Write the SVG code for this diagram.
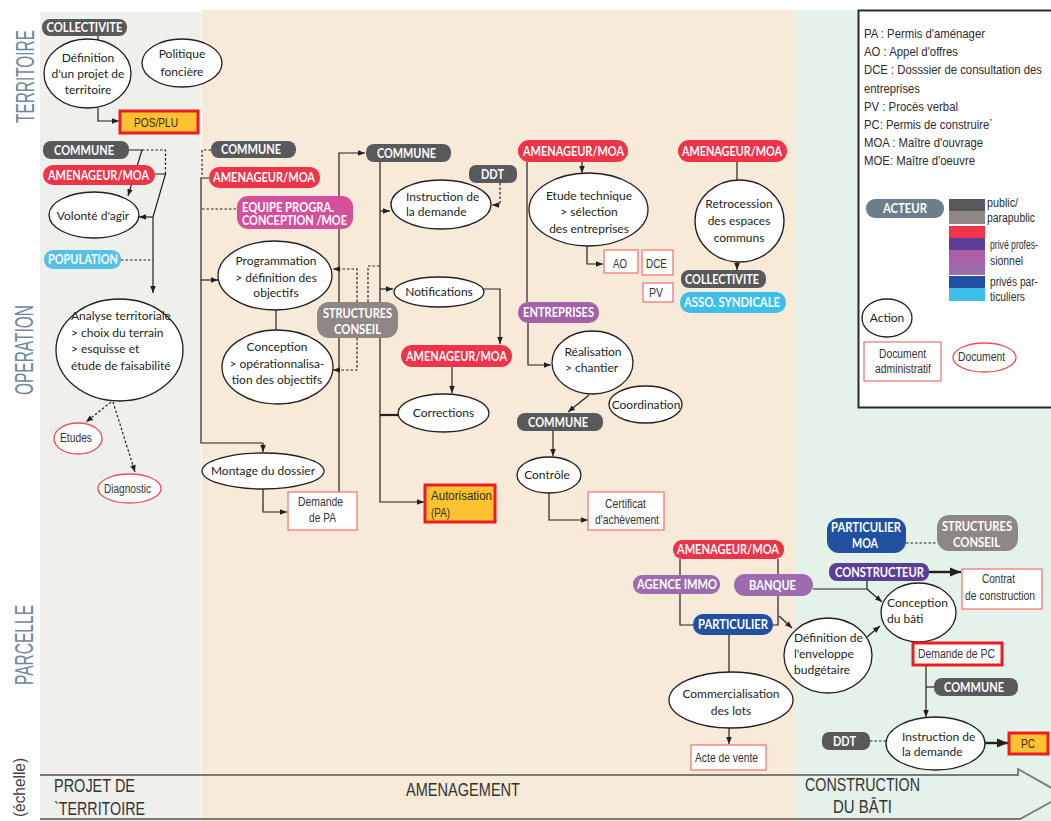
<svg xmlns="http://www.w3.org/2000/svg" width="1051" height="821" viewBox="0 0 1051 821">
<defs>
<style>
.pill text{font-family:Lato,"Open Sans","Liberation Sans",sans-serif;font-weight:700;font-size:12.5px;fill:#fff;text-anchor:middle}
.act ellipse{fill:#fff;stroke:#231f20;stroke-width:1.3}
.act text{font-family:Lato,"Open Sans","Liberation Sans",sans-serif;font-size:12px;fill:#231f20;text-anchor:middle}
.act text.l{text-anchor:start}
.doc rect,.doc ellipse{fill:#fff;stroke:#f07a7a;stroke-width:1.3}
.doc text,.cond{font-family:"Liberation Sans Narrow","Liberation Sans",Arial,sans-serif;font-size:12px;fill:#333;text-anchor:middle}
.key rect{fill:#fdc232;stroke:#ed1c24;stroke-width:3}
.key text{font-family:"Liberation Sans Narrow","Liberation Sans",Arial,sans-serif;font-size:12.5px;fill:#3a2a1a}
.legt{font-family:"Liberation Sans Narrow","Liberation Sans",Arial,sans-serif;font-size:13px;fill:#2d2d2d}
.vlab{font-family:"Liberation Sans Narrow","Liberation Sans",Arial,sans-serif;font-size:26px;fill:#6f899a}
.band{font-family:"Liberation Sans Narrow","Liberation Sans",Arial,sans-serif;font-size:17.5px;fill:#333}
.conn path{fill:none;stroke:#231f20;stroke-width:1.2}
.conn .dot{stroke-dasharray:2.5 2}
.conn .arr{marker-end:url(#ah)}
.conn .thick{stroke-width:2.4;marker-end:url(#ahb)}
</style>
<marker id="ah" viewBox="0 0 10 10" refX="10" refY="5" markerWidth="7" markerHeight="7" markerUnits="userSpaceOnUse" orient="auto"><path d="M0,1 L10,5 L0,9 z" fill="#231f20"/></marker>
<marker id="ahb" viewBox="0 0 10 10" refX="10" refY="5" markerWidth="11" markerHeight="11" markerUnits="userSpaceOnUse" orient="auto"><path d="M0,1 L10,5 L0,9 z" fill="#231f20"/></marker>
</defs>

<g id="background">
<rect x="0" y="0" width="1051" height="821" fill="#fff"/>
<rect x="40" y="12" width="161" height="809" fill="#efefeb"/>
<rect x="202" y="10" width="594" height="811" fill="#f8ead8"/>
<rect x="796" y="10" width="255" height="811" fill="#e5f2e9"/>
<path d="M40,775 H1018 V769 L1064,795 L1020,819 H40" fill="none" stroke="#7d7974" stroke-width="1.8"/>
</g>

<g id="labels">
<text class="vlab" transform="translate(34,123) rotate(-90)" textLength="93" lengthAdjust="spacingAndGlyphs">TERRITOIRE</text>
<text class="vlab" transform="translate(33,395) rotate(-90)" textLength="90" lengthAdjust="spacingAndGlyphs">OPERATION</text>
<text class="vlab" transform="translate(33,685) rotate(-90)" textLength="80" lengthAdjust="spacingAndGlyphs">PARCELLE</text>
<text class="vlab" style="font-size:16px;fill:#444" transform="translate(25,817) rotate(-90)" textLength="59" lengthAdjust="spacingAndGlyphs">(échelle)</text>
<text class="band" x="54" y="792" textLength="81" lengthAdjust="spacingAndGlyphs">PROJET DE</text>
<text class="band" x="54" y="815" textLength="91" lengthAdjust="spacingAndGlyphs">`TERRITOIRE</text>
<text class="band" x="406" y="796" textLength="114" lengthAdjust="spacingAndGlyphs">AMENAGEMENT</text>
<text class="band" x="805" y="791" textLength="115" lengthAdjust="spacingAndGlyphs">CONSTRUCTION</text>
<text class="band" x="833" y="813" textLength="59" lengthAdjust="spacingAndGlyphs">DU BÂTI</text>
</g>

<g id="legend">
<rect x="858.5" y="10.5" width="210" height="397" fill="#fff" stroke="#2b2b2b" stroke-width="2"/>
<text class="legt" x="864" y="38" textLength="121" lengthAdjust="spacingAndGlyphs">PA : Permis d'aménager</text>
<text class="legt" x="864" y="56" textLength="94" lengthAdjust="spacingAndGlyphs">AO : Appel d'offres</text>
<text class="legt" x="864" y="74" textLength="178" lengthAdjust="spacingAndGlyphs">DCE : Dosssier de consultation des</text>
<text class="legt" x="864" y="92.5" textLength="56" lengthAdjust="spacingAndGlyphs">entreprises</text>
<text class="legt" x="864" y="111" textLength="94" lengthAdjust="spacingAndGlyphs">PV : Procès verbal</text>
<text class="legt" x="864" y="129" textLength="129" lengthAdjust="spacingAndGlyphs">PC: Permis de construire`</text>
<text class="legt" x="864" y="147" textLength="119" lengthAdjust="spacingAndGlyphs">MOA : Maître d'ouvrage</text>
<text class="legt" x="864" y="165" textLength="111" lengthAdjust="spacingAndGlyphs">MOE: Maître d'oeuvre</text>
<g id="leg-acteur" class="pill"><rect x="866" y="199" width="78" height="19" rx="9" fill="#6a7f89"/><text x="905" y="213" textLength="44" lengthAdjust="spacingAndGlyphs">ACTEUR</text></g>
<rect x="949" y="199" width="36" height="12" fill="#58595b"/>
<rect x="949" y="211" width="36" height="13" fill="#8f8783"/>
<rect x="949" y="226" width="36" height="12" fill="#ef3349"/>
<rect x="949" y="238" width="36" height="12" fill="#5b3f97"/>
<rect x="949" y="250" width="36" height="13" fill="#ab5fa6"/>
<rect x="949" y="263" width="36" height="12" fill="#9c6dad"/>
<rect x="949" y="276" width="36" height="12" fill="#2150a0"/>
<rect x="949" y="288" width="36" height="13" fill="#3dbfea"/>
<text class="legt" style="font-size:12px" x="987" y="207" textLength="31" lengthAdjust="spacingAndGlyphs">public/</text>
<text class="legt" style="font-size:12px" x="987" y="222" textLength="48" lengthAdjust="spacingAndGlyphs">parapublic</text>
<text class="legt" style="font-size:12px" x="990" y="249" textLength="48" lengthAdjust="spacingAndGlyphs">privé profes-</text>
<text class="legt" style="font-size:12px" x="990" y="265" textLength="33" lengthAdjust="spacingAndGlyphs">sionnel</text>
<text class="legt" style="font-size:12px" x="990" y="286" textLength="48" lengthAdjust="spacingAndGlyphs">privés par-</text>
<text class="legt" style="font-size:12px" x="990" y="301" textLength="35" lengthAdjust="spacingAndGlyphs">ticuliers</text>
<g id="leg-action" class="act"><ellipse cx="887" cy="318" rx="25" ry="19"/><text x="887" y="322">Action</text></g>
<g id="leg-docadmin" class="doc"><rect x="864" y="342" width="77" height="39"/><text x="902.5" y="358" textLength="47" lengthAdjust="spacingAndGlyphs">Document</text><text x="903" y="373" textLength="56" lengthAdjust="spacingAndGlyphs">administratif</text></g>
<g id="leg-doc" class="doc"><ellipse cx="984.5" cy="357.5" rx="31.5" ry="14.5" style="stroke:#ee4d5a"/><text x="981.5" y="361" textLength="47" lengthAdjust="spacingAndGlyphs">Document</text></g>
</g>

<g id="connectors" class="conn">
<path d="M98,36 V40"/>
<path class="arr" d="M98,108 V121 H119"/>
<path class="arr" d="M129,150 H142 L128,196"/>
<path class="dot" d="M142,150 H165.5 V174"/>
<path d="M155,174 H165.5 L153,217"/>
<path class="arr" d="M153,217 H139"/>
<path class="dot" d="M121,260 H153"/>
<path class="arr" d="M153,217 V293"/>
<path class="dot arr" d="M111,402 L86,422"/>
<path class="dot arr" d="M113,402 L135,472"/>
<path class="dot" d="M211,150 H202 V177"/>
<path d="M209,178 H201 V443 H263"/>
<path class="arr" d="M263,443 V452"/>
<path class="dot" d="M202,209 H237"/>
<path class="arr" d="M201,280 H218"/>
<path d="M276,310 V330"/>
<path class="arr" d="M339,492 V153 H365"/>
<path class="dot arr" d="M357,302 V269 H333"/>
<path class="dot" d="M368,302 V266 H380"/>
<path class="dot arr" d="M357,338 V370 H333"/>
<path class="arr" d="M263,489 V512 H287"/>
<path class="arr" d="M380,162 V502 H424"/>
<path class="arr" d="M380,211 H390"/>
<path class="arr" d="M380,289 H393"/>
<path d="M380,415 H399" style="stroke-width:2.2"/>
<path class="dot arr" d="M500,183 V205 H492"/>
<path class="arr" d="M484,289 H500 V344"/>
<path class="arr" d="M452,367 V393"/>
<path class="arr" d="M582,162 V173"/>
<path d="M527,162 V302"/>
<path class="arr" d="M587,246 V264 H603"/>
<path class="arr" d="M528,323 V365 H551"/>
<path class="arr" d="M589,395 L568,412"/>
<path class="arr" d="M553,431 V456"/>
<path class="arr" d="M549,493 V520 H588"/>
<path d="M737,162 V180"/>
<path class="arr" d="M737,262 V270"/>
<path d="M680,559 V575"/>
<path d="M680,594 V625 H693"/>
<path d="M778,559 V574"/>
<path d="M778,596 V625 H773"/>
<path class="arr" d="M779,616 L792,628"/>
<path d="M813,589 H867 V581"/>
<path class="arr" d="M867,589 L882,602"/>
<path class="arr" d="M867,637 L880,626"/>
<path class="dot" d="M906,543 H937"/>
<path class="thick" d="M929,572 H961"/>
<path d="M729,635 V673"/>
<path class="arr" d="M729,728 V744"/>
<path class="arr" d="M926,665 V717"/>
<path d="M926,687 H934"/>
<path class="dot" d="M870,741 H886"/>
<path class="thick" d="M985,743 H1008"/>
</g>

<g id="nodes">
<g id="n-collectivite1" class="pill"><rect x="42" y="19" width="85" height="17" rx="8" fill="#58595b"/><text x="84.5" y="32" textLength="76" lengthAdjust="spacingAndGlyphs">COLLECTIVITE</text></g>
<g id="n-definition" class="act"><ellipse cx="87.5" cy="73.5" rx="43.5" ry="34.5"/><text x="88" y="62">Définition</text><text x="88" y="78">d'un projet de</text><text x="88" y="94">territoire</text></g>
<g id="n-politique" class="act"><ellipse cx="182" cy="63" rx="40" ry="24"/><text x="182" y="58">Politique</text><text x="182" y="76">foncière</text></g>
<g id="n-posplu" class="key"><rect x="120" y="111" width="78" height="22"/><text x="134" y="127" textLength="44" lengthAdjust="spacingAndGlyphs">POS/PLU</text></g>
<g id="n-commune1" class="pill"><rect x="43" y="141" width="86" height="18" rx="8" fill="#58595b"/><text x="84" y="154.5" textLength="60" lengthAdjust="spacingAndGlyphs">COMMUNE</text></g>
<g id="n-amenageur1" class="pill"><rect x="43" y="165" width="112" height="20" rx="10" fill="#ef3349"/><text x="98.5" y="179.5" textLength="101" lengthAdjust="spacingAndGlyphs">AMENAGEUR/MOA</text></g>
<g id="n-volonte" class="act"><ellipse cx="94" cy="215" rx="45" ry="23"/><text x="93" y="220">Volonté d'agir</text></g>
<g id="n-population" class="pill"><rect x="44" y="250" width="77" height="19" rx="9" fill="#56c1e2"/><text x="83" y="264" textLength="70" lengthAdjust="spacingAndGlyphs">POPULATION</text></g>
<g id="n-analyse" class="act"><ellipse cx="119.5" cy="350" rx="63.5" ry="51"/><text class="l" x="71" y="320">Analyse territoriale</text><text class="l" x="71" y="336.5">&gt; choix du terrain</text><text class="l" x="71" y="353">&gt; esquisse et</text><text class="l" x="71" y="370">étude de faisabilité</text></g>
<g id="n-etudes" class="doc"><ellipse cx="78" cy="438.5" rx="24" ry="15.5" style="stroke:#ee4d5a"/><text x="76" y="442" textLength="32" lengthAdjust="spacingAndGlyphs">Etudes</text></g>
<g id="n-diagnostic" class="doc"><ellipse cx="129.5" cy="488.5" rx="31.5" ry="14.5" style="stroke:#ee4d5a"/><text x="127.5" y="493" textLength="47" lengthAdjust="spacingAndGlyphs">Diagnostic</text></g>

<g id="n-commune2" class="pill"><rect x="211" y="141" width="85" height="17" rx="8" fill="#58595b"/><text x="251" y="154" textLength="60" lengthAdjust="spacingAndGlyphs">COMMUNE</text></g>
<g id="n-amenageur2" class="pill"><rect x="209" y="167" width="111" height="21" rx="10" fill="#ef3349"/><text x="264" y="182" textLength="102" lengthAdjust="spacingAndGlyphs">AMENAGEUR/MOA</text></g>
<g id="n-equipe" class="pill"><rect x="237" y="196" width="116" height="33" rx="11" fill="#d5509c"/><text x="242" y="212" style="text-anchor:start" textLength="92" lengthAdjust="spacingAndGlyphs">EQUIPE PROGRA.</text><text x="242" y="225" style="text-anchor:start" textLength="105" lengthAdjust="spacingAndGlyphs">CONCEPTION /MOE</text></g>
<g id="n-programmation" class="act"><ellipse cx="275" cy="275.5" rx="57" ry="34.5"/><text x="276" y="265">Programmation</text><text x="276" y="282">&gt; définition des</text><text x="276" y="297">objectifs</text></g>
<g id="n-structures1" class="pill"><rect x="317" y="302" width="81" height="36" rx="12" fill="#8f8783"/><text x="357.5" y="317.5" textLength="69" lengthAdjust="spacingAndGlyphs">STRUCTURES</text><text x="357.5" y="333.5" textLength="47" lengthAdjust="spacingAndGlyphs">CONSEIL</text></g>
<g id="n-conception" class="act"><ellipse cx="277.5" cy="367" rx="55.5" ry="37"/><text x="277" y="351">Conception</text><text x="277" y="368">&gt; opérationnalisa-</text><text x="277" y="384">tion des objectifs</text></g>
<g id="n-montage" class="act"><ellipse cx="263" cy="471" rx="61" ry="18"/><text x="263" y="475">Montage du dossier</text></g>
<g id="n-demandepa" class="doc"><rect x="288" y="492" width="69" height="38"/><text x="320.5" y="506" textLength="45" lengthAdjust="spacingAndGlyphs">Demande</text><text x="322.5" y="522" textLength="27" lengthAdjust="spacingAndGlyphs">de PA</text></g>

<g id="n-commune3" class="pill"><rect x="366" y="144" width="85" height="18" rx="8" fill="#58595b"/><text x="406.5" y="157.5" textLength="59" lengthAdjust="spacingAndGlyphs">COMMUNE</text></g>
<g id="n-ddt1" class="pill"><rect x="469" y="165" width="48" height="18" rx="7" fill="#58595b"/><text x="492.5" y="178.5" textLength="23" lengthAdjust="spacingAndGlyphs">DDT</text></g>
<g id="n-instruction1" class="act"><ellipse cx="441" cy="204.5" rx="50" ry="24.5"/><text class="l" x="406" y="201">Instruction de</text><text class="l" x="406" y="216">la demande</text></g>
<g id="n-notifications" class="act"><ellipse cx="439" cy="292" rx="45" ry="15"/><text x="439" y="296">Notifications</text></g>
<g id="n-amenageur3" class="pill"><rect x="401" y="345" width="111" height="22" rx="11" fill="#ef3349"/><text x="456.5" y="360.5" textLength="101" lengthAdjust="spacingAndGlyphs">AMENAGEUR/MOA</text></g>
<g id="n-corrections" class="act"><ellipse cx="443.5" cy="413" rx="45.5" ry="19"/><text x="443.5" y="417">Corrections</text></g>
<g id="n-autorisation" class="key"><rect x="425" y="485" width="70" height="37"/><text x="431" y="500" textLength="61" lengthAdjust="spacingAndGlyphs">Autorisation</text><text x="431" y="517" textLength="19" lengthAdjust="spacingAndGlyphs">(PA)</text></g>

<g id="n-amenageur4" class="pill"><rect x="518" y="140" width="110" height="22" rx="11" fill="#ef3349"/><text x="573.5" y="155.5" textLength="101" lengthAdjust="spacingAndGlyphs">AMENAGEUR/MOA</text></g>
<g id="n-etude" class="act"><ellipse cx="588.5" cy="209.5" rx="59.5" ry="36.5"/><text x="589" y="200">Etude technique</text><text x="589" y="216">&gt; sélection</text><text x="589" y="233">des entreprises</text></g>
<g id="n-ao" class="doc"><rect x="604" y="250" width="34" height="23"/><text x="620" y="268" textLength="14" lengthAdjust="spacingAndGlyphs">AO</text></g>
<g id="n-dce" class="doc"><rect x="642" y="250" width="31" height="25"/><text x="656.5" y="268" textLength="21" lengthAdjust="spacingAndGlyphs">DCE</text></g>
<g id="n-pv" class="doc"><rect x="643" y="283" width="30" height="19"/><text x="656" y="297" textLength="14" lengthAdjust="spacingAndGlyphs">PV</text></g>
<g id="n-entreprises" class="pill"><rect x="518" y="302" width="81" height="21" rx="10" fill="#a361a9"/><text x="558.5" y="317" textLength="71" lengthAdjust="spacingAndGlyphs">ENTREPRISES</text></g>
<g id="n-realisation" class="act"><ellipse cx="592.5" cy="362.5" rx="40.5" ry="31.5"/><text x="593" y="356">Réalisation</text><text class="l" x="565" y="372">&gt; chantier</text></g>
<g id="n-coordination" class="act"><ellipse cx="645.5" cy="404.5" rx="36.5" ry="18.5"/><text x="646" y="408.5">Coordination</text></g>
<g id="n-commune4" class="pill"><rect x="517" y="413" width="86" height="18" rx="8" fill="#58595b"/><text x="558" y="426.5" textLength="60" lengthAdjust="spacingAndGlyphs">COMMUNE</text></g>
<g id="n-controle" class="act"><ellipse cx="549" cy="475" rx="32" ry="18"/><text x="547" y="479">Contrôle</text></g>
<g id="n-certificat" class="doc"><rect x="588" y="492" width="76" height="38"/><text x="625.5" y="508" textLength="41" lengthAdjust="spacingAndGlyphs">Certificat</text><text x="627" y="524" textLength="64" lengthAdjust="spacingAndGlyphs">d'achèvement</text></g>

<g id="n-amenageur5" class="pill"><rect x="678" y="140" width="109" height="22" rx="11" fill="#ef3349"/><text x="732" y="155.5" textLength="100" lengthAdjust="spacingAndGlyphs">AMENAGEUR/MOA</text></g>
<g id="n-retrocession" class="act"><ellipse cx="739.5" cy="221" rx="44.5" ry="41"/><text x="739" y="208">Retrocession</text><text x="739" y="225">des espaces</text><text x="739" y="242">communs</text></g>
<g id="n-collectivite2" class="pill"><rect x="681" y="270" width="85" height="18" rx="8" fill="#58595b"/><text x="722" y="283.5" textLength="74" lengthAdjust="spacingAndGlyphs">COLLECTIVITE</text></g>
<g id="n-asso" class="pill"><rect x="680" y="292" width="106" height="21" rx="10" fill="#3dbfea"/><text x="732" y="307" textLength="96" lengthAdjust="spacingAndGlyphs">ASSO. SYNDICALE</text></g>

<g id="n-amenageur6" class="pill"><rect x="673" y="540" width="111" height="19" rx="9" fill="#ef3349"/><text x="728" y="554" textLength="102" lengthAdjust="spacingAndGlyphs">AMENAGEUR/MOA</text></g>
<g id="n-agence" class="pill"><rect x="633" y="575" width="87" height="19" rx="9" fill="#9c6cae"/><text x="677" y="589" textLength="80" lengthAdjust="spacingAndGlyphs">AGENCE IMMO</text></g>
<g id="n-banque" class="pill"><rect x="734" y="574" width="79" height="22" rx="11" fill="#9c6cae"/><text x="772.5" y="589.5" textLength="47" lengthAdjust="spacingAndGlyphs">BANQUE</text></g>
<g id="n-particulier" class="pill"><rect x="693" y="614" width="80" height="21" rx="10" fill="#2150a0"/><text x="733" y="629" textLength="70" lengthAdjust="spacingAndGlyphs">PARTICULIER</text></g>
<g id="n-commercialisation" class="act"><ellipse cx="731" cy="700" rx="62" ry="28"/><text x="731" y="698">Commercialisation</text><text x="731" y="715">des lots</text></g>
<g id="n-acte" class="doc"><rect x="691" y="745" width="75" height="25"/><text x="726.5" y="762" textLength="63" lengthAdjust="spacingAndGlyphs">Acte de vente</text></g>
<g id="n-definition2" class="act"><ellipse cx="828" cy="655.5" rx="44" ry="37.5"/><text class="l" x="794" y="642">Définition de</text><text class="l" x="794" y="658">l'enveloppe</text><text class="l" x="794" y="674">budgétaire</text></g>

<g id="n-particuliermoa" class="pill"><rect x="827" y="518" width="79" height="35" rx="12" fill="#2150a0"/><text x="866" y="532" textLength="70" lengthAdjust="spacingAndGlyphs">PARTICULIER</text><text x="865" y="548" textLength="26" lengthAdjust="spacingAndGlyphs">MOA</text></g>
<g id="n-structures2" class="pill"><rect x="937" y="515" width="81" height="36" rx="12" fill="#8f8783"/><text x="977" y="531" textLength="70" lengthAdjust="spacingAndGlyphs">STRUCTURES</text><text x="976.5" y="547" textLength="47" lengthAdjust="spacingAndGlyphs">CONSEIL</text></g>
<g id="n-constructeur" class="pill"><rect x="829" y="563" width="100" height="18" rx="8" fill="#5b3f97"/><text x="879.5" y="576.5" textLength="89" lengthAdjust="spacingAndGlyphs">CONSTRUCTEUR</text></g>
<g id="n-contrat" class="doc"><rect x="962" y="569" width="80" height="40"/><text x="998.5" y="583" textLength="33" lengthAdjust="spacingAndGlyphs">Contrat</text><text x="1000" y="600" textLength="70" lengthAdjust="spacingAndGlyphs">de construction</text></g>
<g id="n-conceptionbati" class="act"><ellipse cx="918.5" cy="612.5" rx="37.5" ry="29.5"/><text class="l" x="887" y="607">Conception</text><text class="l" x="887" y="623">du bâti</text></g>
<g id="n-demandepc" class="doc"><rect x="913" y="643" width="89" height="22" style="stroke:#ed1c24;stroke-width:3"/><text x="956.5" y="658" textLength="77" lengthAdjust="spacingAndGlyphs">Demande de PC</text></g>
<g id="n-commune5" class="pill"><rect x="934" y="678" width="84" height="18" rx="8" fill="#58595b"/><text x="974" y="691.5" textLength="60" lengthAdjust="spacingAndGlyphs">COMMUNE</text></g>
<g id="n-ddt2" class="pill"><rect x="822" y="732" width="48" height="18" rx="7" fill="#58595b"/><text x="844.5" y="745.5" textLength="23" lengthAdjust="spacingAndGlyphs">DDT</text></g>
<g id="n-instruction2" class="act"><ellipse cx="935.5" cy="743.5" rx="49.5" ry="26.5"/><text class="l" x="902" y="741">Instruction de</text><text class="l" x="902" y="756">la demande</text></g>
<g id="n-pc" class="key"><rect x="1009" y="733" width="39" height="21"/><text x="1021" y="748" textLength="14" lengthAdjust="spacingAndGlyphs">PC</text></g>
</g>
</svg>
